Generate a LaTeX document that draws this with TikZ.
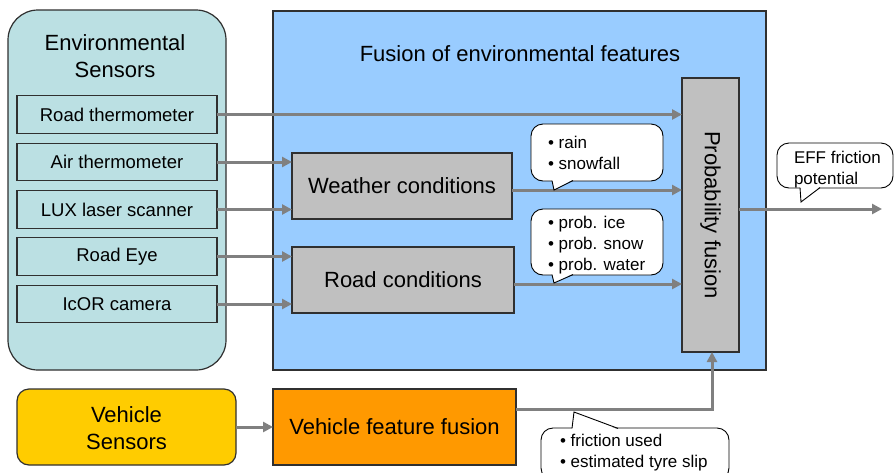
\documentclass[tikz,border=0pt]{standalone}
\usepackage{fontspec}
\setmainfont{Liberation Sans}
\usetikzlibrary{arrows.meta}
\definecolor{envteal}{HTML}{BBE0E3}
\definecolor{fusionblue}{HTML}{99CCFF}
\definecolor{procgray}{HTML}{C0C0C0}
\definecolor{vehyellow}{HTML}{FFCC00}
\definecolor{vehorange}{HTML}{FF9900}
\definecolor{linkgray}{HTML}{808080}
\definecolor{edgedark}{HTML}{303030}

\begin{document}
\begin{tikzpicture}[x=1pt,y=-1pt,
  every node/.style={inner sep=0pt, outer sep=0pt},
  headfont/.style={font=\fontsize{22}{27}\selectfont},
  sensorbox/.style={draw=edgedark, line width=1.1pt, fill=envteal,
    minimum width=200pt, minimum height=37.5pt,
    font=\fontsize{18.5}{22}\selectfont},
  procbox/.style={draw=edgedark, line width=1.1pt, fill=procgray, headfont},
  bubble/.style={draw=black, line width=0.9pt, fill=white, rounded corners=12pt},
  bubbletext/.style={align=left, font=\fontsize{17}{20.8}\selectfont},
  bubbleedge/.style={draw=black, line width=0.9pt, line join=miter},
  link/.style={draw=linkgray, line width=3pt,
    -{Triangle[length=10pt,width=10pt]}}
]
\clip (0,0) rectangle (895,472);
\fill[white] (0,0) rectangle (895,472);

% --- environmental sensors group ---
\node[draw=edgedark, line width=1.2pt, fill=envteal, rounded corners=30pt,
      minimum width=218pt, minimum height=360pt] (env) at (117,190) {};
\node[headfont, align=center, anchor=north] (envtitle) at (115,35)
      {Environmental\\Sensors};
\node[sensorbox] (roadtherm) at (117,114.5) {Road thermometer};
\node[sensorbox] (airtherm)  at (117,162)   {Air thermometer};
\node[sensorbox] (lux)       at (117,209.5) {LUX laser scanner};
\node[sensorbox] (roadeye)   at (117,256.5) {Road Eye};
\node[sensorbox] (icor)      at (117,304)   {IcOR camera};

% --- fusion of environmental features ---
\node[draw=edgedark, line width=1.2pt, fill=fusionblue,
      minimum width=493pt, minimum height=359pt] (fusion) at (519.5,190.5) {};
\node[headfont, anchor=base] (fusiontitle) at (520,61)
      {Fusion of environmental features};
\node[procbox, minimum width=220pt, minimum height=66pt] (weather) at (402,186)
      {Weather conditions};
\node[procbox, minimum width=222pt, minimum height=66pt] (road) at (403,280)
      {Road conditions};
\node[procbox, minimum width=57pt, minimum height=274pt] (prob) at (710.5,215) {};
\node[headfont, rotate=-90] (probtext) at (prob.center) {Probability fusion};

% --- vehicle side ---
\node[draw=edgedark, line width=1.2pt, fill=vehyellow, rounded corners=12pt,
      minimum width=219pt, minimum height=76pt] (vehsens) at (126.5,427) {};
\node[headfont, align=center, anchor=north] (vehtitle) at (126.5,407)
      {Vehicle\\Sensors};
\node[procbox, fill=vehorange, minimum width=243pt, minimum height=76pt]
      (vff) at (394.5,427) {Vehicle feature fusion};

% --- connectors ---
\coordinate (out) at (882,209);
\draw[link] (roadtherm.east) -- (roadtherm.east -| prob.west);
\draw[link] (airtherm.east) -- (airtherm.east -| weather.west);
\draw[link] (lux.east) -- (lux.east -| weather.west);
\draw[link] (roadeye.east) -- (roadeye.east -| road.west);
\draw[link] (icor.east) -- (icor.east -| road.west);
\draw[link] ([yshift=-4pt]weather.east) -- ([yshift=-4pt]weather.east -| prob.west);
\draw[link] ([yshift=-4pt]road.east) -- ([yshift=-4pt]road.east -| prob.west);
\draw[link] (vehsens.east) -- (vff.west);
\draw[link] ([yshift=18pt]vff.east) -| ([xshift=1.5pt]prob.south);
\draw[link] (out -| prob.east) -- (out);

% --- callouts ---
\node[bubble, minimum width=132pt, minimum height=57pt] (wbubble) at (597,152.5) {};
\fill[white] (552,179.5) -- (554,190) -- (573,179.5) -- cycle;
\draw[bubbleedge] (552,180.6) -- (554,190) -- (573,180.6);
\node[bubbletext, anchor=north west] (wlist) at (548,136.5)
      {• rain\\• snowfall};

\node[bubble, minimum width=132pt, minimum height=66pt] (rbubble) at (597,242) {};
\fill[white] (552,273.5) -- (554,283) -- (573,273.5) -- cycle;
\draw[bubbleedge] (552,274.6) -- (554,283) -- (573,274.6);
\node[bubbletext, anchor=north west] (rlist) at (548,216.3)
      {• prob. ice\\• prob. snow\\• prob. water};

\node[bubble, minimum width=116pt, minimum height=45pt] (ebubble) at (835,165.5) {};
\fill[white] (800,186.5) -- (801,202) -- (820,186.5) -- cycle;
\draw[bubbleedge] (800,187.6) -- (801,202) -- (820,187.6);
\node[bubbletext, anchor=north west] (elist) at (794,151.6)
      {EFF friction\\potential};

\node[bubble, minimum width=188pt, minimum height=52pt] (fbubble) at (635,454) {};
\fill[white] (572,429.5) -- (574,412) -- (618,429.5) -- cycle;
\draw[bubbleedge] (572,428.4) -- (574,412) -- (618,428.4);
\node[bubbletext, anchor=north west] (flist) at (560,434)
      {• friction used\\• estimated tyre slip};
\end{tikzpicture}
\end{document}
